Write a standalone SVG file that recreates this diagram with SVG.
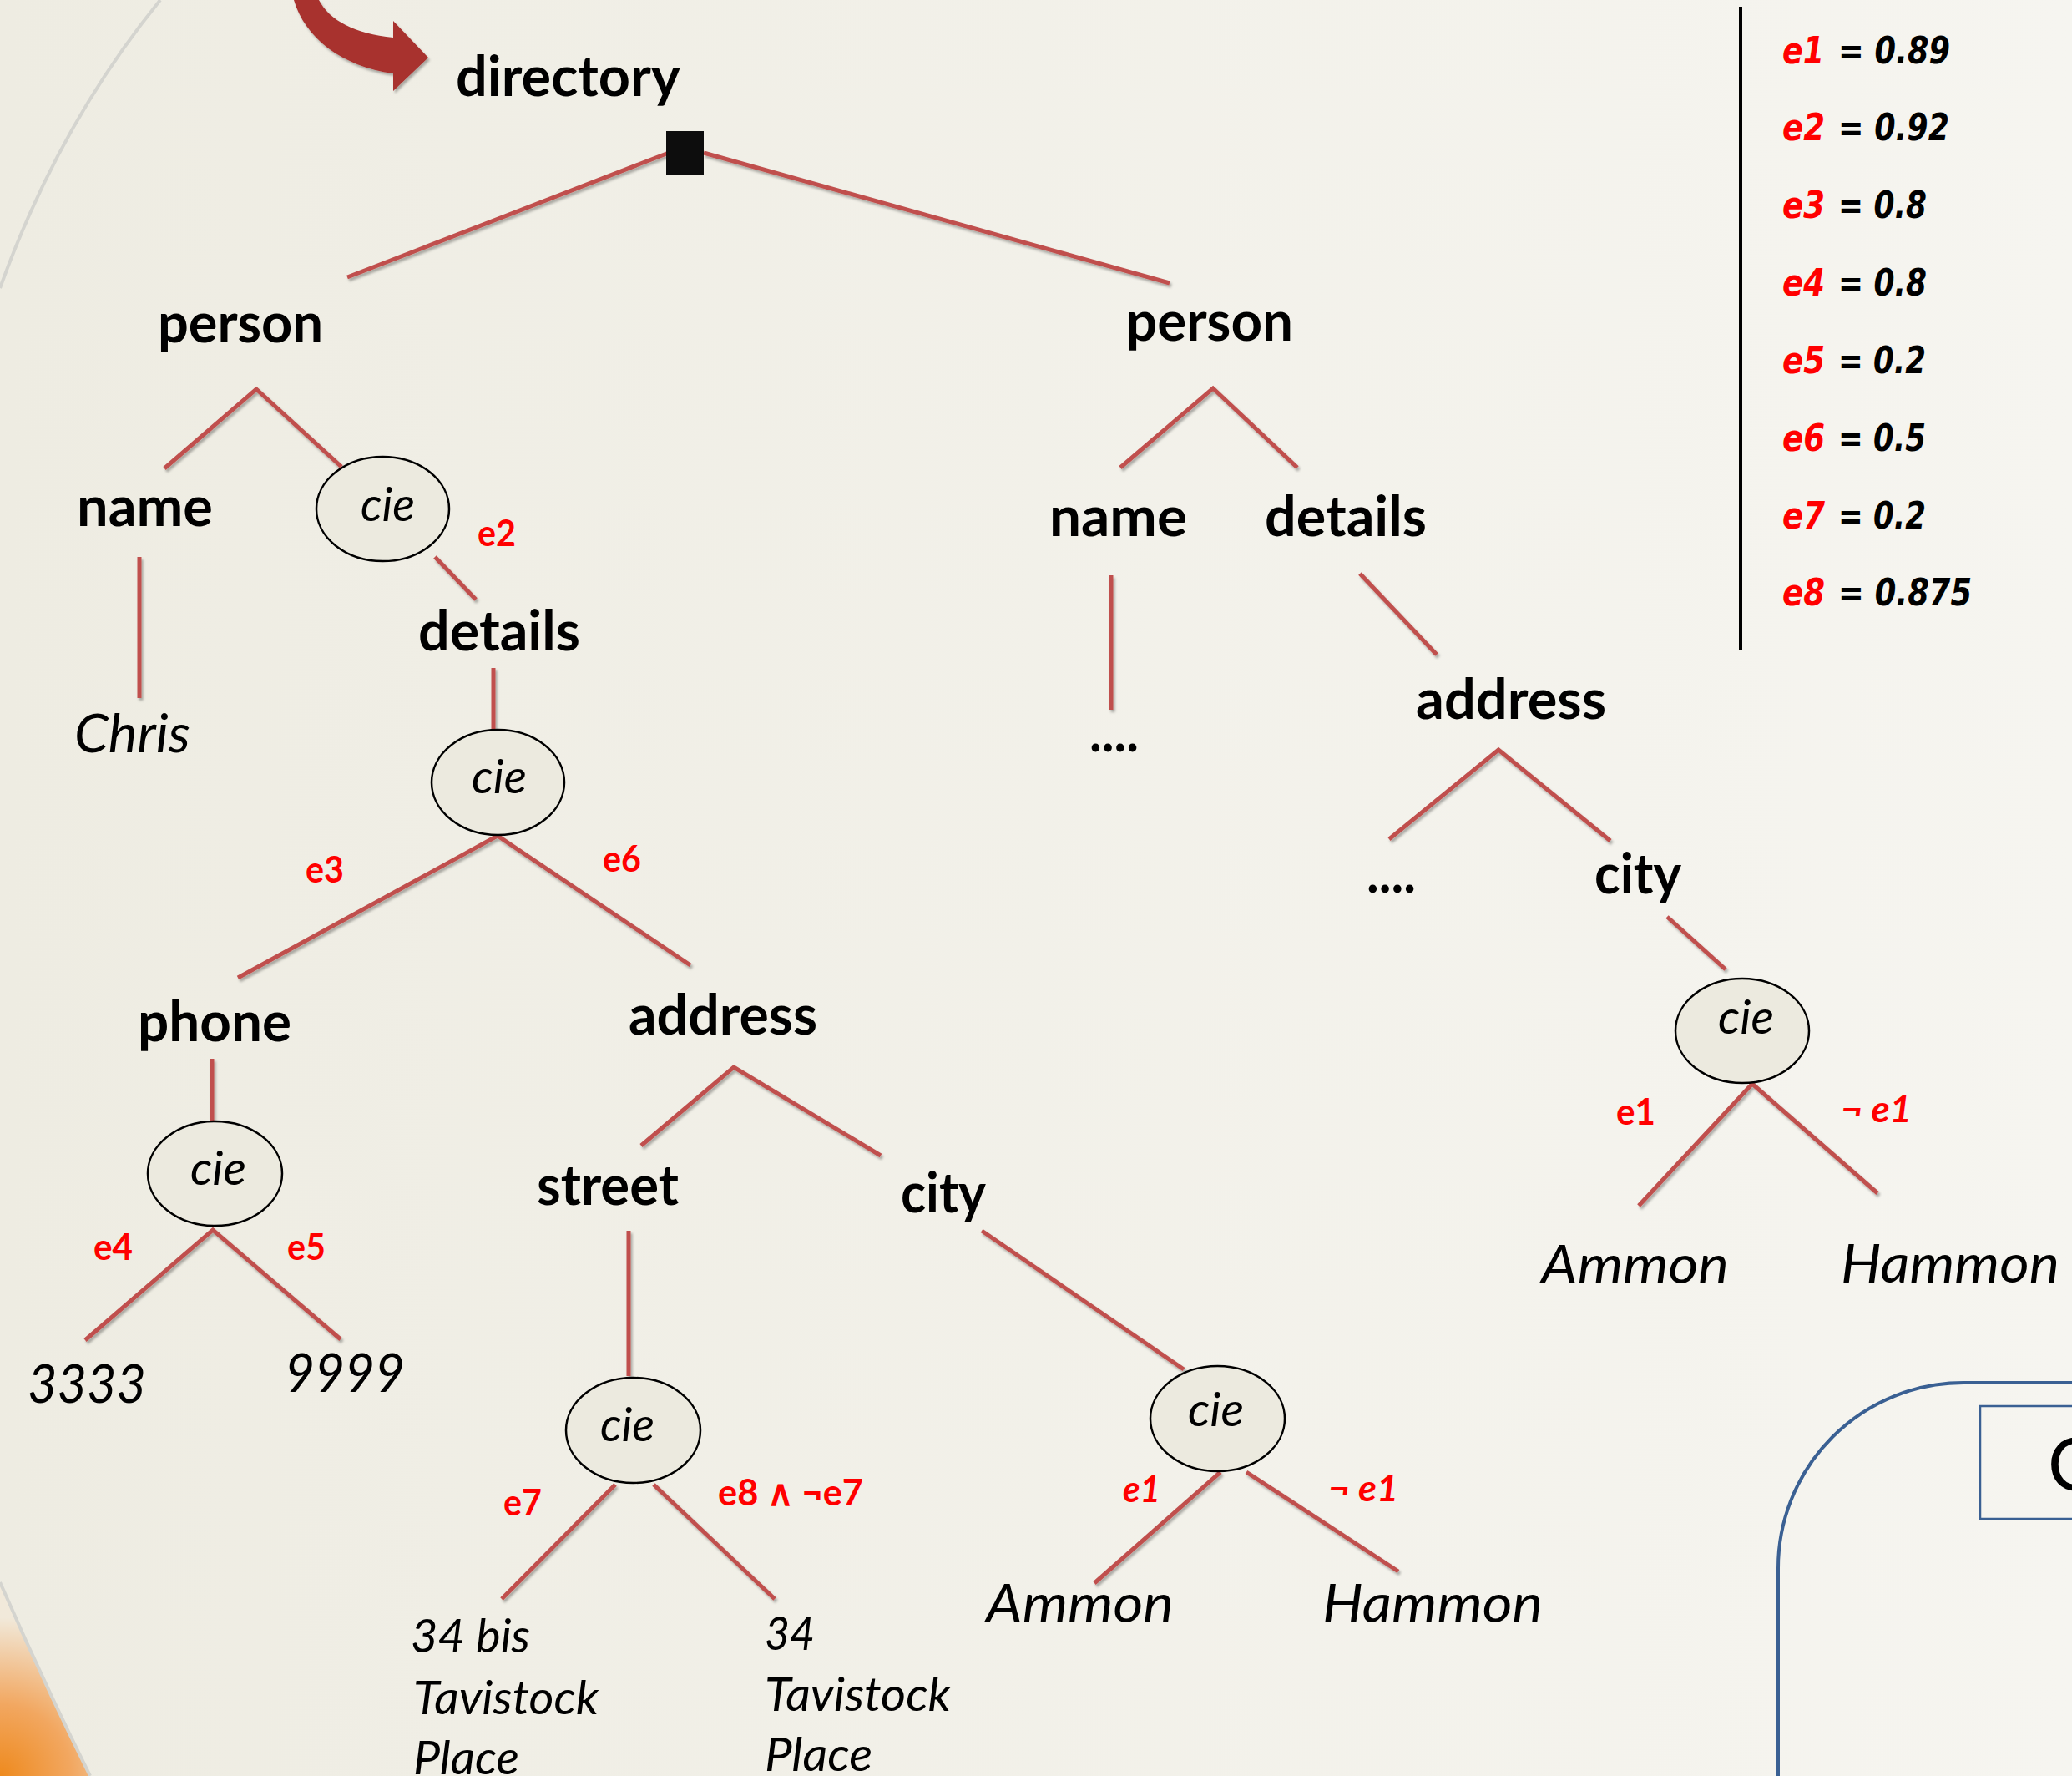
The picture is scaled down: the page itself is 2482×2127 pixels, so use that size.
<svg xmlns="http://www.w3.org/2000/svg" width="2482" height="2127" viewBox="0 0 2482 2127">
<defs>
<linearGradient id="bg" x1="0" y1="0" x2="1" y2="0">
<stop offset="0" stop-color="#EEECE2"/>
<stop offset="1" stop-color="#F6F5F0"/>
</linearGradient>
<radialGradient id="org" cx="0" cy="2127" r="190" gradientUnits="userSpaceOnUse">
<stop offset="0" stop-color="#EE8A1E"/>
<stop offset="0.45" stop-color="#F2A760"/>
<stop offset="1" stop-color="#F1E9DA"/>
</radialGradient>
<filter id="sh" x="-10%" y="-10%" width="130%" height="130%">
<feDropShadow dx="2" dy="3" stdDeviation="1.5" flood-color="#000" flood-opacity="0.3"/>
</filter>
<style>
.lbl{font-family:Lato,"Liberation Sans",sans-serif;font-weight:700;font-size:66px;fill:#000}
.val{font-family:Lato,"Liberation Sans",sans-serif;font-style:italic;font-size:64px;fill:#000}
.addr{font-family:Lato,"Liberation Sans",sans-serif;font-style:italic;font-size:56px;fill:#000}
.cie{font-family:Lato,"Liberation Sans",sans-serif;font-style:italic;font-size:56px;fill:#000}
.ev{font-family:Lato,"Liberation Sans",sans-serif;font-weight:700;font-size:43px;fill:#FF0000}
.evi{font-family:Lato,"Liberation Sans",sans-serif;font-weight:700;font-style:italic;font-size:43px;fill:#FF0000}
.leg{font-family:"DejaVu Sans",Verdana,sans-serif;font-weight:700;font-style:italic;font-size:45px;fill:#000}
.legr{font-family:"DejaVu Sans",Verdana,sans-serif;font-weight:700;font-style:italic;font-size:45px;fill:#FF0000}
.ell{fill:#ECEADF;stroke:#000;stroke-width:2.5}
.cn{fill:none;stroke:#C0504D;stroke-width:5;stroke-linejoin:miter}
</style>
</defs>
<rect width="2482" height="2127" fill="url(#bg)"/>
<path d="M 192 0 Q 70 150 0 345" fill="none" stroke="#D4D4CF" stroke-width="4"/>
<path d="M 0 1895 Q 50 2010 108 2127 L 0 2127 Z" fill="url(#org)"/>
<path d="M 0 1895 Q 50 2010 108 2127" fill="none" stroke="#D4D4CF" stroke-width="4"/>
<path d="M 352 0 C 365 45 410 80 471 88 L 471 109 L 513 69 L 471 25 L 471 45 C 425 40 395 25 382 0 Z" fill="#A8302E" filter="url(#sh)"/>

<g id="connectors" filter="url(#sh)">
<line class="cn" x1="801" y1="183" x2="416" y2="332"/>
<line class="cn" x1="843" y1="183" x2="1401" y2="339"/>
<polyline class="cn" points="197,561 307,466 409,559"/>
<line class="cn" x1="167" y1="667" x2="167" y2="836"/>
<line class="cn" x1="521" y1="667" x2="570" y2="718"/>
<line class="cn" x1="591" y1="800" x2="591" y2="874"/>
<polyline class="cn" points="285,1171 596,1001 827,1156"/>
<line class="cn" x1="254" y1="1268" x2="254" y2="1343"/>
<polyline class="cn" points="102,1605 255,1473 408,1604"/>
<polyline class="cn" points="768,1372 879,1278 1055,1384"/>
<line class="cn" x1="753" y1="1474" x2="753" y2="1648"/>
<line class="cn" x1="601" y1="1915" x2="737" y2="1778"/>
<line class="cn" x1="783" y1="1778" x2="928" y2="1915"/>
<line class="cn" x1="1176" y1="1474" x2="1418" y2="1640"/>
<line class="cn" x1="1311" y1="1896" x2="1462" y2="1763"/>
<line class="cn" x1="1493" y1="1763" x2="1675" y2="1882"/>
<polyline class="cn" points="1342,560 1453,465 1554,560"/>
<line class="cn" x1="1331" y1="689" x2="1331" y2="850"/>
<line class="cn" x1="1629" y1="687" x2="1721" y2="784"/>
<polyline class="cn" points="1664,1005 1795,898 1929,1007"/>
<line class="cn" x1="1997" y1="1098" x2="2067" y2="1161"/>
<polyline class="cn" points="1963,1444 2099,1298 2249,1429"/>
</g>

<g id="root"><rect x="798" y="157" width="45" height="53" fill="#0D0D0D"/><text class="lbl" x="546" y="115" textLength="269" lengthAdjust="spacingAndGlyphs">directory</text></g>
<g id="person-left"><text class="lbl" x="189" y="410" textLength="198" lengthAdjust="spacingAndGlyphs">person</text></g>
<g id="person-right"><text class="lbl" x="1349" y="408" textLength="200" lengthAdjust="spacingAndGlyphs">person</text></g>
<g id="name-left"><text class="lbl" x="92" y="630" textLength="163" lengthAdjust="spacingAndGlyphs">name</text></g>
<g id="chris"><text class="val" x="89" y="901" textLength="139" lengthAdjust="spacingAndGlyphs">Chris</text></g>
<g id="cie1"><ellipse class="ell" cx="458.5" cy="609.5" rx="79.5" ry="62.5"/><text class="cie" x="432" y="624" textLength="65" lengthAdjust="spacingAndGlyphs">cie</text></g>
<g id="lbl-e2"><text class="ev" x="572" y="654" textLength="46" lengthAdjust="spacingAndGlyphs">e2</text></g>
<g id="details-left"><text class="lbl" x="501" y="779" textLength="194" lengthAdjust="spacingAndGlyphs">details</text></g>
<g id="cie2"><ellipse class="ell" cx="596.5" cy="937" rx="79.5" ry="63"/><text class="cie" x="565" y="950" textLength="66" lengthAdjust="spacingAndGlyphs">cie</text></g>
<g id="lbl-e3"><text class="ev" x="366" y="1057" textLength="46" lengthAdjust="spacingAndGlyphs">e3</text></g>
<g id="lbl-e6"><text class="ev" x="722" y="1044" textLength="46" lengthAdjust="spacingAndGlyphs">e6</text></g>
<g id="phone"><text class="lbl" x="165" y="1247" textLength="184" lengthAdjust="spacingAndGlyphs">phone</text></g>
<g id="cie3"><ellipse class="ell" cx="257.5" cy="1405.5" rx="80.5" ry="62.5"/><text class="cie" x="228" y="1419" textLength="67" lengthAdjust="spacingAndGlyphs">cie</text></g>
<g id="lbl-e4"><text class="ev" x="112" y="1509" textLength="47" lengthAdjust="spacingAndGlyphs">e4</text></g>
<g id="lbl-e5"><text class="ev" x="344" y="1509" textLength="46" lengthAdjust="spacingAndGlyphs">e5</text></g>
<g id="v3333"><text class="val" x="33" y="1680" textLength="142" lengthAdjust="spacingAndGlyphs">3333</text></g>
<g id="v9999"><text class="val" x="341" y="1667" textLength="144" lengthAdjust="spacingAndGlyphs">9999</text></g>
<g id="address-left"><text class="lbl" x="753" y="1239" textLength="226" lengthAdjust="spacingAndGlyphs">address</text></g>
<g id="street"><text class="lbl" x="643" y="1443" textLength="170" lengthAdjust="spacingAndGlyphs">street</text></g>
<g id="city-left"><text class="lbl" x="1079" y="1452" textLength="102" lengthAdjust="spacingAndGlyphs">city</text></g>
<g id="cie4"><ellipse class="ell" cx="758.5" cy="1713" rx="80.5" ry="63"/><text class="cie" x="719" y="1726" textLength="65" lengthAdjust="spacingAndGlyphs">cie</text></g>
<g id="lbl-e7"><text class="ev" x="603" y="1815" textLength="46" lengthAdjust="spacingAndGlyphs">e7</text></g>
<g id="lbl-e8e7"><text class="ev" x="860" y="1803" textLength="174" lengthAdjust="spacingAndGlyphs">e8 ∧ ¬e7</text></g>
<g id="street-a"><text class="addr" x="492" y="1979" textLength="143" lengthAdjust="spacingAndGlyphs">34 bis</text><text class="addr" x="495" y="2053" textLength="222" lengthAdjust="spacingAndGlyphs">Tavistock</text><text class="addr" x="495" y="2125" textLength="127" lengthAdjust="spacingAndGlyphs">Place</text></g>
<g id="street-b"><text class="addr" x="916" y="1976" textLength="60" lengthAdjust="spacingAndGlyphs">34</text><text class="addr" x="916" y="2049" textLength="223" lengthAdjust="spacingAndGlyphs">Tavistock</text><text class="addr" x="916" y="2121" textLength="129" lengthAdjust="spacingAndGlyphs">Place</text></g>
<g id="cie5"><ellipse class="ell" cx="1458.5" cy="1699" rx="80.5" ry="63"/><text class="cie" x="1423" y="1708" textLength="67" lengthAdjust="spacingAndGlyphs">cie</text></g>
<g id="lbl-e1-a"><text class="evi" x="1345" y="1799" textLength="45" lengthAdjust="spacingAndGlyphs">e1</text></g>
<g id="lbl-ne1-a"><text class="evi" x="1591" y="1798" textLength="84" lengthAdjust="spacingAndGlyphs">¬ e1</text></g>
<g id="ammon-left"><text class="val" x="1181" y="1943" textLength="225" lengthAdjust="spacingAndGlyphs">Ammon</text></g>
<g id="hammon-left"><text class="val" x="1584" y="1943" textLength="264" lengthAdjust="spacingAndGlyphs">Hammon</text></g>
<g id="name-right"><text class="lbl" x="1257" y="642" textLength="165" lengthAdjust="spacingAndGlyphs">name</text></g>
<g id="details-right"><text class="lbl" x="1515" y="642" textLength="194" lengthAdjust="spacingAndGlyphs">details</text></g>
<g id="dots1"><text class="lbl" x="1305" y="900" textLength="59" lengthAdjust="spacingAndGlyphs">....</text></g>
<g id="address-right"><text class="lbl" x="1696" y="861" textLength="228" lengthAdjust="spacingAndGlyphs">address</text></g>
<g id="dots2"><text class="lbl" x="1637" y="1069" textLength="59" lengthAdjust="spacingAndGlyphs">....</text></g>
<g id="city-right"><text class="lbl" x="1910" y="1070" textLength="104" lengthAdjust="spacingAndGlyphs">city</text></g>
<g id="cie6"><ellipse class="ell" cx="2087" cy="1234.5" rx="80" ry="62.5"/><text class="cie" x="2058" y="1238" textLength="67" lengthAdjust="spacingAndGlyphs">cie</text></g>
<g id="lbl-e1-b"><text class="ev" x="1936" y="1347" textLength="47" lengthAdjust="spacingAndGlyphs">e1</text></g>
<g id="lbl-ne1-b"><text class="evi" x="2205" y="1344" textLength="85" lengthAdjust="spacingAndGlyphs">¬ e1</text></g>
<g id="ammon-right"><text class="val" x="1846" y="1537" textLength="225" lengthAdjust="spacingAndGlyphs">Ammon</text></g>
<g id="hammon-right"><text class="val" x="2205" y="1536" textLength="262" lengthAdjust="spacingAndGlyphs">Hammon</text></g>

<g id="legend">
<line x1="2085" y1="8" x2="2085" y2="778" stroke="#000" stroke-width="4"/>
<text class="legr" x="2135" y="76" textLength="50" lengthAdjust="spacingAndGlyphs">e1</text><text class="leg" x="2202" y="76" textLength="134" lengthAdjust="spacingAndGlyphs">= 0.89</text>
<text class="legr" x="2135" y="168" textLength="51" lengthAdjust="spacingAndGlyphs">e2</text><text class="leg" x="2202" y="168" textLength="133" lengthAdjust="spacingAndGlyphs">= 0.92</text>
<text class="legr" x="2135" y="261" textLength="51" lengthAdjust="spacingAndGlyphs">e3</text><text class="leg" x="2202" y="261" textLength="106" lengthAdjust="spacingAndGlyphs">= 0.8</text>
<text class="legr" x="2135" y="354" textLength="51" lengthAdjust="spacingAndGlyphs">e4</text><text class="leg" x="2202" y="354" textLength="106" lengthAdjust="spacingAndGlyphs">= 0.8</text>
<text class="legr" x="2135" y="447" textLength="51" lengthAdjust="spacingAndGlyphs">e5</text><text class="leg" x="2202" y="447" textLength="105" lengthAdjust="spacingAndGlyphs">= 0.2</text>
<text class="legr" x="2135" y="540" textLength="51" lengthAdjust="spacingAndGlyphs">e6</text><text class="leg" x="2202" y="540" textLength="105" lengthAdjust="spacingAndGlyphs">= 0.5</text>
<text class="legr" x="2135" y="633" textLength="51" lengthAdjust="spacingAndGlyphs">e7</text><text class="leg" x="2202" y="633" textLength="105" lengthAdjust="spacingAndGlyphs">= 0.2</text>
<text class="legr" x="2135" y="725" textLength="51" lengthAdjust="spacingAndGlyphs">e8</text><text class="leg" x="2202" y="725" textLength="160" lengthAdjust="spacingAndGlyphs">= 0.875</text>
</g>

<g id="box">
<path d="M 2130 2130 L 2130 1878 A 222 222 0 0 1 2352 1656 L 2490 1656" fill="none" stroke="#3A6093" stroke-width="4"/>
<rect x="2372" y="1684" width="200" height="135" fill="none" stroke="#3A6093" stroke-width="2.5"/>
<text x="2453" y="1785" font-family="Lato,'Liberation Sans',sans-serif" font-size="87" fill="#000">C</text>
</g>
</svg>
